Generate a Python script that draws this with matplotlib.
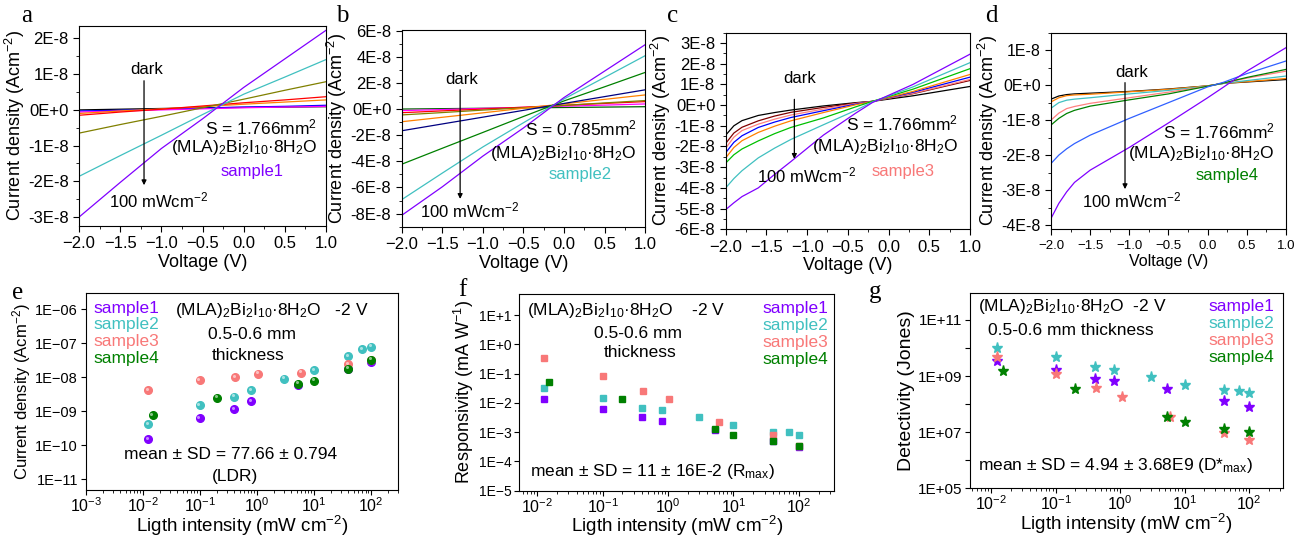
import numpy as np
import matplotlib
matplotlib.use('Agg')
import matplotlib.pyplot as plt
from matplotlib.transforms import offset_copy
from matplotlib.ticker import FuncFormatter, MultipleLocator, LogLocator, NullLocator, NullFormatter

plt.rcParams['font.family'] = ['Liberation Sans', 'DejaVu Sans']
plt.rcParams['mathtext.default'] = 'regular'

# --- I-V curves (current density in units of 1E-8 A cm^-2), dark -> 100 mW cm^-2 ---
a_v = [-2.0, -1.5, -1.0, -0.5, 0.0, 0.5, 1.0]
a_curves = [
    [0.00, 0.02, 0.04, 0.06, 0.07, 0.08, 0.09],
    [-0.03, -0.01, 0.02, 0.05, 0.08, 0.10, 0.13],
    [-0.06, -0.03, 0.00, 0.03, 0.06, 0.08, 0.10],
    [-0.10, -0.03, 0.03, 0.09, 0.16, 0.22, 0.28],
    [-0.15, -0.06, 0.02, 0.11, 0.20, 0.28, 0.37],
    [-0.65, -0.41, -0.18, 0.06, 0.30, 0.55, 0.79],
    [-1.86, -1.28, -0.71, -0.13, 0.44, 0.92, 1.41],
    [-3.00, -2.03, -1.08, -0.25, 0.63, 1.43, 2.23],
]
a_colors = ['#000000', '#0000ff', '#ff00ff', '#ff8000', '#ff0000', '#808000', '#40c0c0', '#8000ff']

b_v = [-2.0, -1.5, -1.0, -0.5, 0.0, 0.5, 1.0]
b_curves = [
    [0.00, 0.03, 0.06, 0.09, 0.12, 0.15, 0.18],
    [-0.12, -0.04, 0.05, 0.13, 0.22, 0.30, 0.39],
    [-0.28, -0.14, 0.00, 0.14, 0.29, 0.43, 0.57],
    [-0.45, -0.27, -0.08, 0.10, 0.28, 0.47, 0.65],
    [-0.97, -0.63, -0.29, 0.06, 0.40, 0.74, 1.08],
    [-1.66, -1.14, -0.62, -0.10, 0.43, 0.95, 1.47],
    [-4.22, -3.00, -1.79, -0.57, 0.62, 1.70, 2.80],
    [-6.93, -4.90, -2.90, -1.05, 0.77, 2.42, 4.08],
    [-8.13, -5.95, -3.60, -1.45, 0.88, 2.90, 4.92],
]
b_colors = ['#006000', '#ff00ff', '#ff0000', '#808000', '#ff8000', '#000080', '#008000', '#40c0c0', '#8000ff']

c_v = [-2.0, -1.9, -1.8, -1.6, -1.4, -1.2, -0.8, -0.4, -0.2, 0.3, 1.0]
c_curves = [
    [-1.45, -1.00, -0.75, -0.50, -0.36, -0.24, -0.04, 0.12, 0.18, 0.45, 0.90],
    [-1.85, -1.35, -1.07, -0.76, -0.53, -0.35, -0.11, 0.10, 0.18, 0.55, 1.19],
    [-2.08, -1.55, -1.23, -0.92, -0.68, -0.48, -0.19, 0.08, 0.18, 0.57, 1.24],
    [-2.30, -1.80, -1.48, -1.08, -0.82, -0.60, -0.27, 0.05, 0.18, 0.62, 1.35],
    [-2.55, -2.05, -1.72, -1.32, -1.02, -0.76, -0.36, 0.02, 0.18, 0.66, 1.48],
    [-2.80, -2.40, -2.12, -1.73, -1.38, -1.08, -0.62, -0.08, 0.18, 0.77, 1.76],
    [-4.00, -3.55, -3.17, -2.55, -2.08, -1.66, -0.95, -0.25, 0.15, 0.88, 2.05],
    [-5.05, -4.72, -4.42, -4.00, -3.35, -2.73, -1.45, -0.38, 0.12, 1.00, 2.46],
]
c_colors = ['#000000', '#800000', '#ff8080', '#0000ff', '#ff8000', '#00c000', '#40c0c0', '#8000ff']

d_v = [-2.0, -1.9, -1.8, -1.7, -1.5, -1.0, -0.5, 0.0, 0.2, 0.5, 1.0]
d_curves = [
    [-0.40, -0.31, -0.27, -0.25, -0.23, -0.18, -0.11, -0.02, 0.05, 0.09, 0.16],
    [-0.48, -0.36, -0.30, -0.28, -0.26, -0.19, -0.12, -0.02, 0.05, 0.10, 0.19],
    [-0.66, -0.50, -0.43, -0.40, -0.36, -0.25, -0.15, -0.03, 0.05, 0.13, 0.26],
    [-1.00, -0.80, -0.67, -0.61, -0.52, -0.36, -0.20, -0.03, 0.06, 0.20, 0.40],
    [-1.14, -0.95, -0.81, -0.72, -0.60, -0.42, -0.25, -0.03, 0.06, 0.22, 0.45],
    [-2.24, -2.00, -1.82, -1.67, -1.43, -0.95, -0.50, -0.05, 0.08, 0.33, 0.69],
    [-3.81, -3.38, -3.05, -2.78, -2.43, -1.78, -1.08, -0.36, -0.06, 0.40, 1.07],
]
d_colors = ['#000000', '#ff8000', '#40c0c0', '#ff8080', '#008000', '#3060ff', '#8000ff']

# --- light-intensity dependence at -2 V ---
s1_light = [0.0125, 0.1, 0.4, 0.8, 5.3, 40, 100]
s2_light = [0.0125, 0.1, 0.4, 0.8, 3, 10, 40, 70, 100]
s3_light = [0.0125, 0.1, 0.42, 1.05, 6, 40, 100]
s4_light = [0.015, 0.2, 5.3, 10, 40, 100]

s1_j = [1.5e-10, 6.1e-10, 1.15e-9, 1.97e-9, 6.0e-9, 1.8e-8, 2.8e-8]
s2_j = [4.1e-10, 1.5e-9, 2.65e-9, 4.2e-9, 9.1e-9, 1.6e-8, 4.2e-8, 6.8e-8, 8.0e-8]
s3_j = [4.2e-9, 8.2e-9, 1.02e-8, 1.28e-8, 1.35e-8, 2.4e-8, 3.3e-8]
s4_j = [7.6e-10, 2.5e-9, 6.4e-9, 7.8e-9, 1.8e-8, 3.3e-8]

s1_r = [1.33e-2, 6.4e-3, 3.2e-3, 2.5e-3, 1.2e-3, 5.0e-4, 3.0e-4]
s2_r = [3.3e-2, 1.5e-2, 6.9e-3, 5.5e-3, 3.2e-3, 1.69e-3, 1.05e-3, 1.0e-3, 8.1e-4]
s3_r = [0.35, 8.3e-2, 2.64e-2, 1.33e-2, 2.3e-3, 7.7e-4, 3.5e-4]
s4_r = [5.3e-2, 1.33e-2, 1.3e-3, 8.1e-4, 4.8e-4, 3.5e-4]

s1_d = [3.4e9, 1.64e9, 7.8e8, 6.8e8, 3.35e8, 1.25e8, 8.1e7]
s2_d = [1.03e10, 4.6e9, 2.15e9, 1.64e9, 9.5e8, 5.0e8, 3.2e8, 3.0e8, 2.4e8]
s3_d = [4.9e9, 1.18e9, 3.8e8, 1.84e8, 3.4e7, 9.5e6, 5.3e6]
s4_d = [1.5e9, 3.6e8, 3.6e7, 2.4e7, 1.35e7, 1.0e7]

sample_names = ['sample1', 'sample2', 'sample3', 'sample4']
sample_colors = ['#8000ff', '#40c0c0', '#f87878', '#008000']
formula = '(MLA)$_2$Bi$_2$I$_{10}$·8H$_2$O'

fig = plt.figure(figsize=(13.09, 5.40), dpi=100)


def iv_fmt(v, pos):
    m = int(round(v / 1e-8))
    if m == 0:
        return '0E+0'
    return f'{m}E-8'


def iv_panel(rect, v, curves, colors, ylim, ystep, sample, scolor, area, txt, tfs=12):
    ax = fig.add_axes(rect)
    for ys, c in zip(curves, colors):
        ax.plot(v, np.array(ys) * 1e-8, color=c, lw=0.9)
    ax.set_xlim(-2.0, 1.0)
    ax.set_ylim(ylim[0] * 1e-8, ylim[1] * 1e-8)
    ax.xaxis.set_major_locator(MultipleLocator(0.5))
    ax.xaxis.set_minor_locator(MultipleLocator(0.25))
    ax.yaxis.set_major_locator(MultipleLocator(ystep * 1e-8))
    ax.yaxis.set_minor_locator(MultipleLocator(ystep * 0.5e-8))
    ax.yaxis.set_major_formatter(FuncFormatter(iv_fmt))
    ax.tick_params(which='major', length=4, width=0.8)
    ax.tick_params(which='minor', length=2, width=0.6)
    ax.set_xlabel('Voltage (V)', fontsize=tfs + 1, labelpad=2)
    ax.set_ylabel('Current density (Acm$^{-2}$)', fontsize=13, labelpad=1)
    # annotations (axes fraction)
    ax.text(txt['dark'][0], txt['dark'][1], 'dark', transform=ax.transAxes,
            ha='center', va='center', fontsize=12)
    ax.annotate('', xy=(txt['arrow'][0], txt['arrow'][2]), xycoords='axes fraction',
                xytext=(txt['arrow'][0], txt['arrow'][1]), textcoords='axes fraction',
                arrowprops=dict(arrowstyle='-|>', color='k', lw=0.9, mutation_scale=7))
    ax.text(txt['light'][0], txt['light'][1], '100 mWcm$^{-2}$', transform=ax.transAxes,
            ha='center', va='center', fontsize=12)
    ax.text(txt['S'][0], txt['S'][1], f'S = {area}mm$^2$', transform=ax.transAxes,
            ha='right', va='center', fontsize=12.5)
    ax.text(txt['S'][0], txt['mla'], formula, transform=ax.transAxes,
            ha='right', va='center', fontsize=12.5)
    ax.text(txt['sample'][0], txt['sample'][1], sample, transform=ax.transAxes,
            ha='center', va='center', fontsize=12, color=scolor)
    return ax


ax_a = iv_panel([0.0604, 0.5815, 0.1887, 0.3704], a_v, a_curves, a_colors, (-3.25, 2.35), 1,
                'sample1', '#8000ff', '1.766',
                dict(dark=(0.275, 0.78), arrow=(0.263, 0.74, 0.19), light=(0.32, 0.13),
                     S=(0.964, 0.495), mla=0.39, sample=(0.70, 0.27)))
ax_a.tick_params(labelsize=12)

ax_b = iv_panel([0.3069, 0.5802, 0.1859, 0.3643], b_v, b_curves, b_colors, (-9.0, 6.05), 2,
                'sample2', '#40c0c0', '0.785',
                dict(dark=(0.247, 0.746), arrow=(0.24, 0.71, 0.127), light=(0.28, 0.085),
                     S=(0.966, 0.50), mla=0.373, sample=(0.733, 0.263)))
ax_b.tick_params(labelsize=12)

ax_c = iv_panel([0.5544, 0.5754, 0.1866, 0.3641], c_v, c_curves, c_colors, (-6.0, 3.5), 1,
                'sample3', '#f87878', '1.766',
                dict(dark=(0.304, 0.765), arrow=(0.281, 0.675, 0.344), light=(0.33, 0.276),
                     S=(0.952, 0.539), mla=0.42, sample=(0.727, 0.294)))
ax_c.tick_params(labelsize=12)

ax_d = iv_panel([0.8029, 0.5754, 0.1795, 0.3641], d_v, d_curves, d_colors, (-4.12, 1.5), 1,
                'sample4', '#008000', '1.766',
                dict(dark=(0.343, 0.797), arrow=(0.315, 0.76, 0.19), light=(0.343, 0.145),
                     S=(0.953, 0.497), mla=0.387, sample=(0.748, 0.276)), tfs=10.5)
ax_d.tick_params(axis='x', labelsize=9.5)
ax_d.tick_params(axis='y', labelsize=11.5)


# --- bottom row ---
def log_label(v, pad=True):
    exp = int(round(np.log10(v)))
    sign = '+' if exp >= 0 else '−'
    if pad:
        return f'1E{sign}{abs(exp):02d}'
    return f'1E{sign}{abs(exp)}'


def light_panel(rect, xs, ys, marker, ms, xlim, ylim, ylabel, ylfs, shine=False):
    ax = fig.add_axes(rect)
    glint = offset_copy(ax.transData, fig=fig, x=-1.0, y=1.0, units='points')
    for x, y, c in zip(xs, ys, sample_colors):
        ax.plot(x, y, linestyle='none', marker=marker, ms=ms, color=c, mec=c)
        if shine:
            # small highlight so the dots look like spheres
            ax.plot(x, y, linestyle='none', marker='o', ms=ms * 0.4, color='white',
                    alpha=0.55, mew=0, transform=glint)
    ax.set_xscale('log')
    ax.set_yscale('log')
    ax.set_xlim(*xlim)
    ax.set_ylim(*ylim)
    ax.xaxis.set_major_locator(LogLocator(base=10, numticks=20))
    ax.xaxis.set_minor_locator(LogLocator(base=10, subs=np.arange(2, 10), numticks=50))
    ax.xaxis.set_minor_formatter(NullFormatter())
    ax.yaxis.set_major_locator(LogLocator(base=10, numticks=20))
    ax.yaxis.set_minor_locator(NullLocator())
    ax.tick_params(which='major', length=3.5, width=0.8, labelsize=11, pad=2)
    ax.tick_params(which='minor', length=2, width=0.6)
    ax.tick_params(axis='x', labelsize=11.5, pad=1)
    ax.set_xlabel('Ligth intensity (mW cm$^{-2}$)', fontsize=13.5, labelpad=-1)
    ax.set_ylabel(ylabel, fontsize=ylfs, labelpad=2)
    return ax


light = [s1_light, s2_light, s3_light, s4_light]

ax_e = light_panel([0.0655, 0.0926, 0.2388, 0.3643], light, [s1_j, s2_j, s3_j, s4_j], 'o', 5.5,
                   (1e-3, 3e2), (10 ** -11.32, 10 ** -5.53), 'Current density (Acm$^{-2}$)', 12,
                   shine=True)
ax_e.yaxis.set_major_formatter(FuncFormatter(lambda v, p: log_label(v)))
ax_e.tick_params(axis='y', labelsize=10.5)
for i, (name, c) in enumerate(zip(sample_names, sample_colors)):
    ax_e.text(0.024, 0.924 - i * 0.085, name, color=c, fontsize=12.5,
              transform=ax_e.transAxes, ha='left', va='center')
ax_e.text(0.286, 0.912, formula + '   -2 V', transform=ax_e.transAxes, ha='left', va='center', fontsize=12.5)
ax_e.text(0.531, 0.788, '0.5-0.6 mm', transform=ax_e.transAxes, ha='center', va='center', fontsize=12.5)
ax_e.text(0.52, 0.686, 'thickness', transform=ax_e.transAxes, ha='center', va='center', fontsize=12.5)
ax_e.text(0.462, 0.178, 'mean ± SD = 77.66 ± 0.794', transform=ax_e.transAxes, ha='center', va='center', fontsize=12.5)
ax_e.text(0.478, 0.071, '(LDR)', transform=ax_e.transAxes, ha='center', va='center', fontsize=12.5)

ax_f = light_panel([0.3967, 0.0913, 0.2406, 0.3637], light, [s1_r, s2_r, s3_r, s4_r], 's', 4.8,
                   (10 ** -2.275, 10 ** 2.54), (1e-5, 10 ** 1.71), 'Responsivity (mA W$^{-1}$)', 13)
ax_f.yaxis.set_major_formatter(FuncFormatter(lambda v, p: log_label(v, pad=False)))
ax_f.tick_params(axis='y', labelsize=10)
for i, (name, c) in enumerate(zip(sample_names, sample_colors)):
    ax_f.text(0.981, 0.929 - i * 0.087, name, color=c, fontsize=12.5,
              transform=ax_f.transAxes, ha='right', va='center')
ax_f.text(0.023, 0.917, formula + '    -2 V', transform=ax_f.transAxes, ha='left', va='center', fontsize=12.5)
ax_f.text(0.378, 0.80, '0.5-0.6 mm', transform=ax_f.transAxes, ha='center', va='center', fontsize=12.5)
ax_f.text(0.383, 0.703, 'thickness', transform=ax_f.transAxes, ha='center', va='center', fontsize=12.5)
ax_f.text(0.034, 0.097, 'mean ± SD = 11 ± 16E-2 (R$_{max}$)', transform=ax_f.transAxes,
          ha='left', va='center', fontsize=12.5)

ax_g = light_panel([0.7410, 0.0957, 0.2389, 0.3622], light, [s1_d, s2_d, s3_d, s4_d], '*', 8,
                   (10 ** -2.33, 10 ** 2.52), (1e5, 10 ** 11.97), 'Detectivity (Jones)', 14)
ax_g.yaxis.set_major_formatter(
    FuncFormatter(lambda v, p: log_label(v) if int(round(np.log10(v))) % 2 == 1 else ''))
ax_g.tick_params(axis='y', labelsize=11)
for i, (name, c) in enumerate(zip(sample_names, sample_colors)):
    ax_g.text(0.973, 0.932 - i * 0.088, name, color=c, fontsize=12.5,
              transform=ax_g.transAxes, ha='right', va='center')
ax_g.text(0.027, 0.932, formula + '  -2 V', transform=ax_g.transAxes, ha='left', va='center', fontsize=12.5)
ax_g.text(0.059, 0.809, '0.5-0.6 mm thickness', transform=ax_g.transAxes, ha='left', va='center', fontsize=12.5)
ax_g.text(0.027, 0.119, 'mean ± SD = 4.94 ± 3.68E9 (D*$_{max}$)', transform=ax_g.transAxes,
          ha='left', va='center', fontsize=12.5)

# panel letters
for letter, x, y in [('a', 27, 16), ('b', 342, 16), ('c', 673, 16), ('d', 991, 16),
                     ('e', 18, 293), ('f', 462, 290), ('g', 875, 292)]:
    fig.text(x / 1309, 1 - y / 540, letter, family='Liberation Serif', fontsize=18,
             ha='center', va='center')

fig.savefig('out.png', dpi=100)
